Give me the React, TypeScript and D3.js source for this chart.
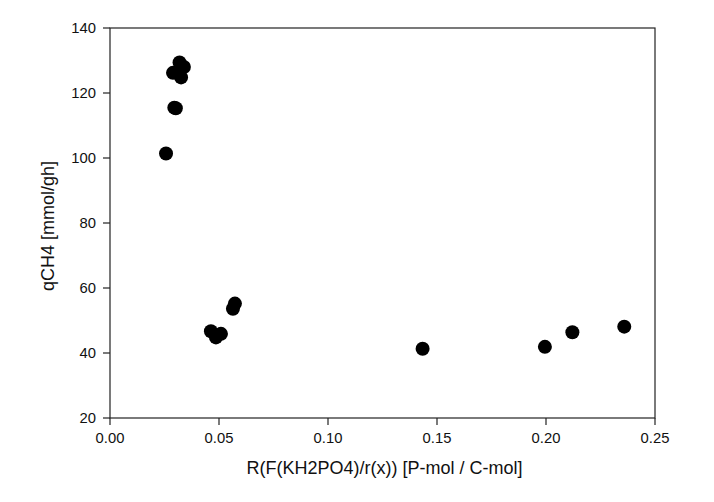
import React from "react";
import * as d3 from "d3";

const xValues = [0.0257, 0.0295, 0.0302, 0.0289, 0.0319, 0.0339, 0.0326, 0.0463, 0.0509, 0.0486, 0.0573, 0.0564, 0.1434, 0.1995, 0.2121, 0.2359];
const yValues = [101.4, 115.5, 115.3, 126.2, 129.4, 128.0, 124.8, 46.7, 45.9, 44.8, 55.2, 53.6, 41.3, 41.9, 46.4, 48.1];
const xTicks = [0, 0.05, 0.1, 0.15, 0.2, 0.25];
const yTicks = [20, 40, 60, 80, 100, 120, 140];
const xTitle = "R(F(KH2PO4)/r(x)) [P-mol / C-mol]";
const yTitle = "qCH4 [mmol/gh]";

export default function App() {
  const W = 714, H = 502;
  const left = 110, right = 655, top = 28, bottom = 418;
  const x = d3.scaleLinear().domain([0, 0.25]).range([left, right]);
  const y = d3.scaleLinear().domain([20, 140]).range([bottom, top]);
  const font = "'Liberation Sans', Arial, sans-serif";
  const stroke = "#222";
  return (
    <svg width={W} height={H} style={{ position: "absolute", left: 0, top: 0, background: "#fff" }} fontFamily={font}>
      <rect x={0} y={0} width={W} height={H} fill="#fff" />
      <rect x={left} y={top} width={right - left} height={bottom - top} fill="none" stroke={stroke} strokeWidth={1.2} />
      {yTicks.map((t) => (
        <g key={"y" + t}>
          <line x1={left - 7} x2={left} y1={y(t)} y2={y(t)} stroke={stroke} strokeWidth={1.2} />
          <text x={left - 14} y={y(t)} dy="0.36em" textAnchor="end" fontSize={14.8} fill="#111">{t}</text>
        </g>
      ))}
      {xTicks.map((t) => (
        <g key={"x" + t}>
          <line x1={x(t)} x2={x(t)} y1={bottom} y2={bottom + 7} stroke={stroke} strokeWidth={1.2} />
          <text x={x(t)} y={bottom + 25} textAnchor="middle" fontSize={14.8} fill="#111">{d3.format(".2f")(t)}</text>
        </g>
      ))}
      <text x={(left + right) / 2 + 2} y={474} textAnchor="middle" fontSize={18} fill="#111">{xTitle}</text>
      <text transform={`translate(54, ${(top + bottom) / 2 + 3}) rotate(-90)`} textAnchor="middle" fontSize={18} fill="#111">{yTitle}</text>
      {xValues.map((xv, i) => (
        <circle key={i} cx={x(xv)} cy={y(yValues[i])} r={7} fill="#000" />
      ))}
    </svg>
  );
}
